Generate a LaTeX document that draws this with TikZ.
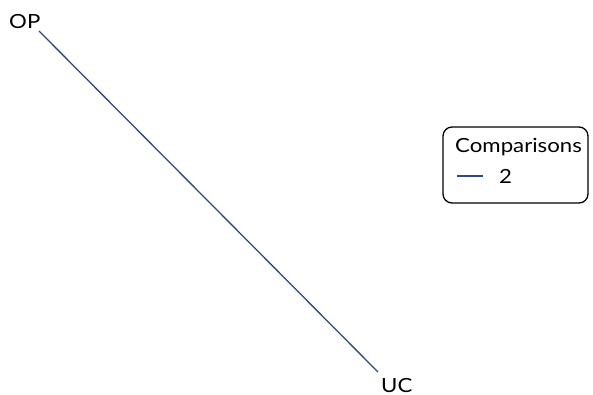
\documentclass[tikz,border=0pt]{standalone}
\usepackage{fontspec}
\setmainfont{Lato}[FakeStretch=1.14]
\definecolor{linkblue}{HTML}{2A4A85}
\begin{document}
\begin{tikzpicture}[x=1pt,y=-1pt,
  lbl/.style={font=\fontsize{19.5}{22}\selectfont, inner sep=0pt, anchor=base west},
  link/.style={draw=linkblue, line width=1.3pt},
  legendbox/.style={draw=black, line width=1.3pt, rounded corners=9pt}]
\useasboundingbox (0,0) rectangle (593,394);
\node[lbl] (op) at (9,28) {OP};
\node[lbl] (uc) at (381,392) {UC};
\coordinate (a) at (39,31);
\coordinate (b) at (378,372);
\draw[link] (a) -- (b);
\draw[legendbox] (443,127) rectangle (588,203);
\node[lbl] (leg) at (455,152) {Comparisons};
\coordinate (s1) at (457,176);
\coordinate (s2) at (483,176);
\draw[link] (s1) -- (s2);
\node[lbl] (two) at (499,183) {2};
\end{tikzpicture}
\end{document}
